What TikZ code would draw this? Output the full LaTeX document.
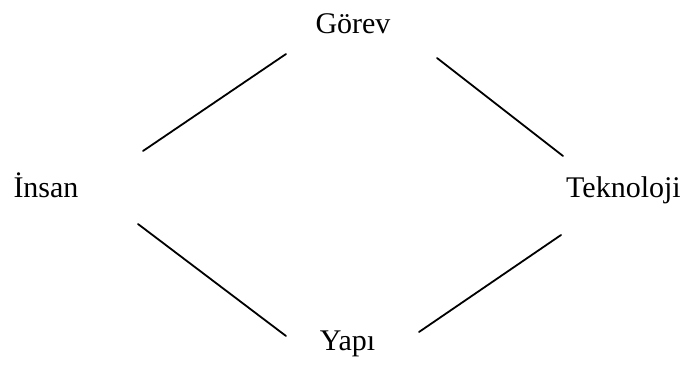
\documentclass[tikz,border=0pt]{standalone}
\usepackage{fontspec}
\setmainfont{Liberation Serif}
\begin{document}
\begin{tikzpicture}[x=1pt,y=-1pt,
  label text/.style={font=\fontsize{30}{36}\selectfont, anchor=base, inner sep=0pt},
  link/.style={line width=1.8pt, line cap=round}]
  \useasboundingbox (0,0) rectangle (687,367);
  % four concepts
  \node[label text] (gorev) at (353,33) {Görev};
  \node[label text] (insan) at (46,197) {İnsan};
  \node[label text] (tekno) at (623.5,197) {Teknoloji};
  \node[label text] (yapi)  at (347.5,350) {Yapı};
  % end points of the links
  \coordinate (g-l) at (286,54);
  \coordinate (g-r) at (437,58);
  \coordinate (i-t) at (143,151);
  \coordinate (i-b) at (138,224);
  \coordinate (t-t) at (563,156);
  \coordinate (t-b) at (561,235);
  \coordinate (y-l) at (286,336);
  \coordinate (y-r) at (419,332);
  % links
  \draw[link] (i-t) -- (g-l);
  \draw[link] (g-r) -- (t-t);
  \draw[link] (i-b) -- (y-l);
  \draw[link] (t-b) -- (y-r);
\end{tikzpicture}
\end{document}
